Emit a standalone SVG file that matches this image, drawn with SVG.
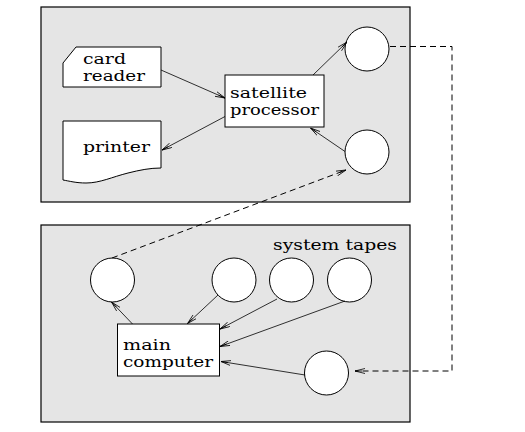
<svg xmlns="http://www.w3.org/2000/svg" width="525" height="432" viewBox="0 0 525 432">
<style>
.panel{fill:#e5e5e5;stroke:#000;stroke-width:1.2}
.box{fill:#fff;stroke:#000;stroke-width:1}
.lbl{font-family:"DejaVu Serif","Liberation Serif",serif;font-size:15px;fill:#000}
.arr{fill:none;stroke:#000;stroke-width:0.8;marker-end:url(#ah)}
.dash{fill:none;stroke:#000;stroke-width:1;stroke-dasharray:6,4}
</style>
<defs>
<marker id="ah" viewBox="0 0 10 6" refX="10" refY="3" markerWidth="10" markerHeight="6" markerUnits="userSpaceOnUse" orient="auto">
<path d="M0,0.5 L10,3 L0,5.5 M3,3 L10,3" fill="none" stroke="#000" stroke-width="0.8"/>
</marker>
</defs>
<rect width="525" height="432" fill="#fff"/>
<g id="panel-satellite"><rect class="panel" x="41" y="7" width="369" height="195"/></g>
<g id="panel-main"><rect class="panel" x="41" y="225" width="369" height="197"/></g>

<g id="card-reader">
<path class="box" d="M76,47 H161 V87 H63 V63 Z"/>
<text class="lbl" x="83" y="64" textLength="43" lengthAdjust="spacingAndGlyphs">card</text>
<text class="lbl" x="83" y="81" textLength="62" lengthAdjust="spacingAndGlyphs">reader</text>
</g>
<g id="printer">
<path class="box" d="M63,121 H161 V168 C150,168 140,170 128,173 C112,177 100,183 86,183 C76,183 69,181 63,180 Z"/>
<text class="lbl" x="83" y="152" textLength="67" lengthAdjust="spacingAndGlyphs">printer</text>
</g>
<g id="satellite-processor">
<rect class="box" x="225" y="75" width="99" height="52"/>
<text class="lbl" x="230" y="98" textLength="77" lengthAdjust="spacingAndGlyphs">satellite</text>
<text class="lbl" x="230" y="115" textLength="89" lengthAdjust="spacingAndGlyphs">processor</text>
</g>
<g id="tape-sat-out"><circle class="box" cx="367" cy="49" r="22"/></g>
<g id="tape-sat-in"><circle class="box" cx="367" cy="152" r="22"/></g>

<g id="system-tapes-label"><text class="lbl" x="273" y="250" textLength="124" lengthAdjust="spacingAndGlyphs">system tapes</text></g>
<g id="tape-1"><circle class="box" cx="112.5" cy="280" r="22"/></g>
<g id="tape-2"><circle class="box" cx="234" cy="280" r="22"/></g>
<g id="tape-3"><circle class="box" cx="291.5" cy="280" r="22"/></g>
<g id="tape-4"><circle class="box" cx="349.5" cy="280" r="22"/></g>
<g id="tape-5"><circle class="box" cx="326.5" cy="373" r="22"/></g>
<g id="main-computer">
<rect class="box" x="117.5" y="324" width="102" height="52"/>
<text class="lbl" x="123" y="350" textLength="48" lengthAdjust="spacingAndGlyphs">main</text>
<text class="lbl" x="123" y="367" textLength="90" lengthAdjust="spacingAndGlyphs">computer</text>
</g>

<g id="connectors">
<line class="arr" x1="161" y1="70" x2="225" y2="98"/>
<line class="arr" x1="225" y1="116.5" x2="162" y2="150"/>
<line class="arr" x1="313" y1="75" x2="347" y2="42"/>
<line class="arr" x1="345" y1="151.5" x2="310.5" y2="128"/>
<line class="arr" x1="132.5" y1="324" x2="111.5" y2="302"/>
<line class="arr" x1="218" y1="295" x2="187.5" y2="323.5"/>
<line class="arr" x1="277" y1="299" x2="220" y2="329"/>
<line class="arr" x1="345" y1="301" x2="220" y2="346.5"/>
<line class="arr" x1="305" y1="375" x2="221" y2="361.5"/>
<path class="dash" d="M112,258 L346,170" marker-end="url(#ah)"/>
<path class="dash" d="M390,46.5 H452 V371 H355" marker-end="url(#ah)"/>
</g>
</svg>
